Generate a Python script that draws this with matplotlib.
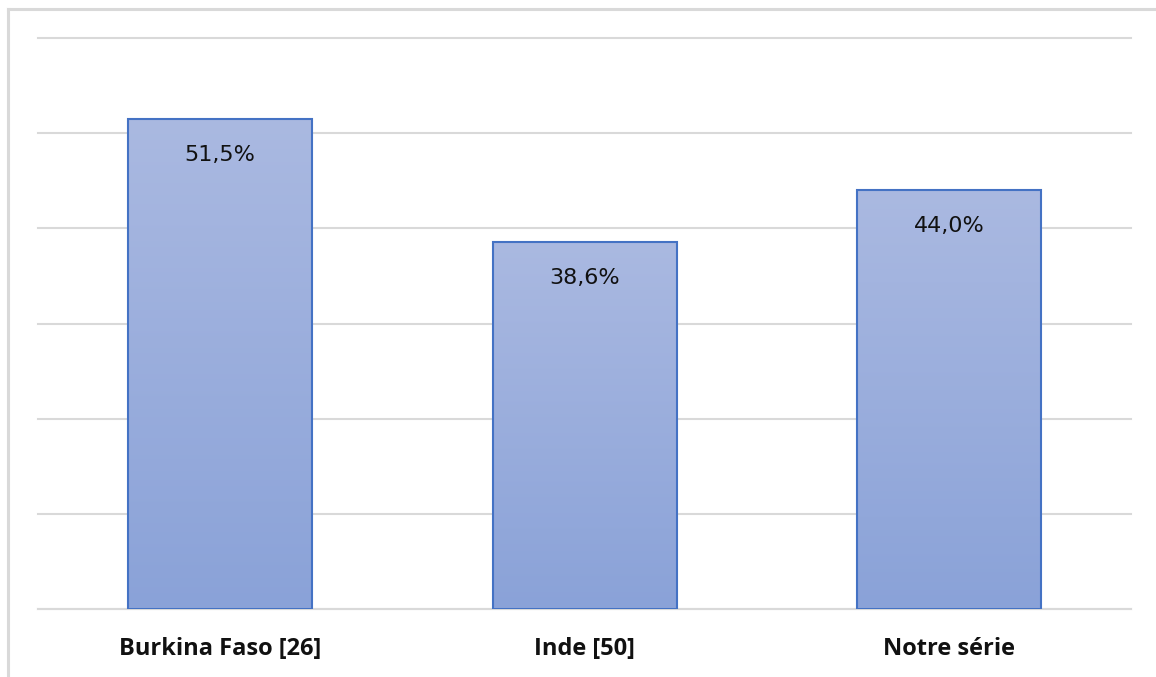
import numpy as np
import matplotlib
matplotlib.use("Agg")
import matplotlib.pyplot as plt
from matplotlib.colors import LinearSegmentedColormap

# data
pays = ["Burkina Faso [26]", "Inde [50]", "Notre série"]
taux = [51.5, 38.6, 44.0]
etiquettes = ["51,5%", "38,6%", "44,0%"]

plt.rcParams["font.family"] = ["Open Sans", "DejaVu Sans"]

fig = plt.figure(figsize=(11.56, 6.77), dpi=100)
ax = fig.add_axes([0.0329, 0.1004, 0.9455, 0.8435])

# light frame (top and left of the chart area)
fig.add_artist(plt.Line2D([8 / 1156, 8 / 1156], [0, 1 - 9 / 677], color="#d9d9d9", lw=2.2, transform=fig.transFigure))
fig.add_artist(plt.Line2D([8 / 1156, 1], [1 - 9 / 677, 1 - 9 / 677], color="#d9d9d9", lw=2.2, transform=fig.transFigure))

x = np.arange(len(pays))
bars = ax.bar(x, taux, width=0.505, color="none", edgecolor="#4472c4", linewidth=1.5, zorder=3)

# vertical gradient inside each bar
grad = LinearSegmentedColormap.from_list("g", ["#8aa2d8", "#aab9e1"])
for b in bars:
    x0, y0 = b.get_x(), b.get_y()
    w, h = b.get_width(), b.get_height()
    im = ax.imshow(np.linspace(0, 1, 256).reshape(-1, 1), cmap=grad, aspect="auto",
                   extent=[x0, x0 + w, y0, y0 + h], origin="lower", zorder=2)
    im.set_clip_path(b)

for xi, v, t in zip(x, taux, etiquettes):
    ax.text(xi, v - 3.8, t, ha="center", va="center", fontsize=16, color="#111111",
            family="DejaVu Sans")

ax.set_xlim(-0.5, 2.5)
ax.set_ylim(0, 60)
ax.set_yticks(np.arange(0, 61, 10))
ax.yaxis.grid(True, color="#d9d9d9", linewidth=1.5, zorder=0)
for gl in ax.get_ygridlines():
    gl.set_clip_on(False)
ax.tick_params(axis="y", left=False, labelleft=False)
ax.tick_params(axis="x", length=0, pad=20)
ax.set_xticks(x)
ax.set_xticklabels(pays, fontsize=17, fontweight="bold", color="#111111")
for s in ["top", "right", "left"]:
    ax.spines[s].set_visible(False)
ax.spines["bottom"].set_color("#d9d9d9")
ax.spines["bottom"].set_linewidth(1.5)

fig.savefig("out.png", dpi=100)
